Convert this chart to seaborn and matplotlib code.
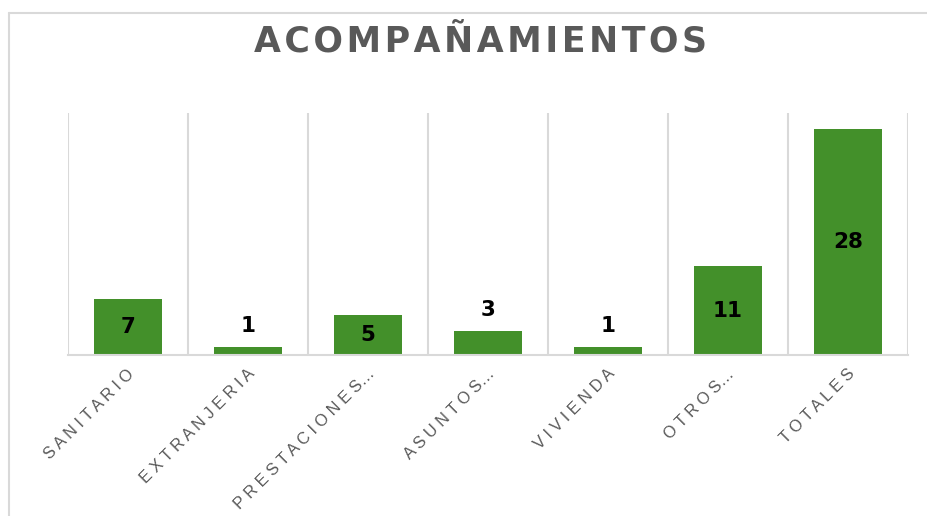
import matplotlib
matplotlib.use("Agg")
import matplotlib.pyplot as plt
import matplotlib.transforms as mtransforms
import seaborn as sns
import pandas as pd
from matplotlib.lines import Line2D

categories = ["SANITARIO", "EXTRANJERIA", "PRESTACIONES…", "ASUNTOS…", "VIVIENDA", "OTROS…", "TOTALES"]
values = [7, 1, 5, 3, 1, 11, 28]
title = "ACOMPAÑAMIENTOS"

df = pd.DataFrame({"cat": categories, "val": values})

sns.set_theme(style="white")
plt.rcParams['font.family'] = ['Liberation Sans', 'DejaVu Sans']

fig = plt.figure(figsize=(9.28, 5.16), dpi=100)
W, H = 928, 516
ax = fig.add_axes([68 / W, (H - 355) / H, (908 - 68) / W, (355 - 113) / H])

green = "#43902A"
sns.barplot(data=df, x="cat", y="val", color=green, width=0.56, ax=ax,
            saturation=1, edgecolor="none")

ax.set_ylim(0, 30)
ax.set_xlim(-0.5, len(categories) - 0.5)
for s in ["top", "right", "left"]:
    ax.spines[s].set_visible(False)
ax.spines["bottom"].set_color("#d9d9d9")
ax.spines["bottom"].set_linewidth(1.5)
ax.set_yticks([])
ax.set_xlabel("")
ax.set_ylabel("")

# vertical category separators
for i in range(len(categories) + 1):
    ax.axvline(i - 0.5, color="#d9d9d9", lw=1.5, zorder=0)

# data labels
for i, v in enumerate(values):
    y = v / 2 if v >= 5 else v + 2.6
    ax.text(i, y, str(v), ha="center", va="center", fontsize=15.5,
            fontweight="bold", color="black", family=['DejaVu Sans'])


def spaced(label):
    base = label.rstrip("…")
    tail = label[len(base):]
    return " ".join(list(base)) + tail


# tick labels with letter spacing
ax.set_xticks(range(len(categories)))
ax.set_xticklabels([spaced(c) for c in categories], rotation=45, ha="right", va="center",
                   rotation_mode="anchor", fontsize=11.8, color="#595959",
                   family=['Liberation Sans', 'DejaVu Sans'])
ax.tick_params(axis="x", length=0, pad=12)
offset = mtransforms.ScaledTranslation(4 / 100, 0, fig.dpi_scale_trans)
for lbl in ax.get_xticklabels():
    lbl.set_transform(lbl.get_transform() + offset)

# title
fig.text(480 / W, 1 - 42 / H, "\u200a".join(list(title)), ha="center", va="center",
         fontsize=25, fontweight="bold", color="#595959",
         family=['DejaVu Sans'])

# frame border (left and top visible)
fig.add_artist(Line2D([9 / W, 9 / W], [0, 1 - 13 / H], transform=fig.transFigure,
                      color="#d9d9d9", lw=1.5))
fig.add_artist(Line2D([9 / W, 1], [1 - 13 / H, 1 - 13 / H], transform=fig.transFigure,
                      color="#d9d9d9", lw=1.5))

fig.savefig("out.png", dpi=100, facecolor="white")
